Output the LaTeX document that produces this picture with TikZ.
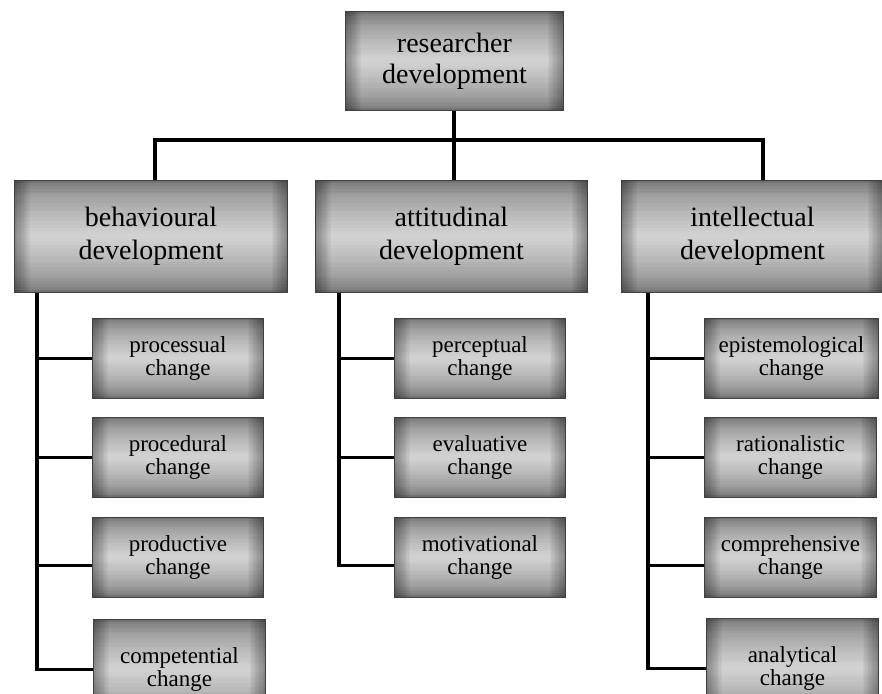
\documentclass[tikz,border=0pt]{standalone}
\usepackage{fontspec}
\setmainfont{Liberation Serif}
\usetikzlibrary{calc}
\tikzset{
  gbox/.style={draw=black!75, line width=0.9pt, anchor=north west, align=center,
    inner sep=0pt, fill=black!45,
    path picture={
      \foreach \bandI in {0,...,39}{
        \pgfmathsetmacro\bandA{\bandI/40}
        \pgfmathsetmacro\bandB{min(1,(\bandI+1.4)/40)}
        \pgfmathsetmacro\bandV{1-abs(2*(\bandI+0.5)/40-1)}
        \pgfmathtruncatemacro\bandP{100-100*(0.38+0.44*sqrt(\bandV))}
        \fill[black!\bandP]
          ($(path picture bounding box.north west)!\bandA!(path picture bounding box.south west)$)
          rectangle
          ($(path picture bounding box.north east)!\bandB!(path picture bounding box.south east)$);
      }
      \foreach \sideK in {1,...,12}{
        \fill[black, opacity=0.03] (path picture bounding box.south west)
          rectangle ([xshift=\sideK*1.3pt]path picture bounding box.north west);
        \fill[black, opacity=0.03] (path picture bounding box.south east)
          rectangle ([xshift=-\sideK*1.3pt]path picture bounding box.north east);
      }
    }},
  topbox/.style={gbox, minimum width=218pt, minimum height=99pt, font=\fontsize{28}{31}\selectfont},
  midbox/.style={gbox, minimum height=112pt, font=\fontsize{28}{33}\selectfont},
  subbox/.style={gbox, minimum height=80pt, font=\fontsize{23}{23.5}\selectfont},
  conn/.style={line width=3.2pt, line cap=butt},
}
\begin{document}
\begin{tikzpicture}[x=1pt,y=-1pt]
\useasboundingbox (0,0) rectangle (882,693);
% top
\node[topbox] (top) at (345,11) {researcher\\development};
% level 2
\node[midbox, minimum width=273pt] (beh) at (14,180) {behavioural\\development};
\node[midbox, minimum width=272pt] (att) at (315,180) {attitudinal\\development};
\node[midbox, minimum width=262pt] (int) at (621,180) {intellectual\\development};
% level 3 left
\node[subbox, minimum width=171pt] (b1) at (92,318) {processual\\change};
\node[subbox, minimum width=171pt] (b2) at (92,417) {procedural\\change};
\node[subbox, minimum width=171pt] (b3) at (92,517) {productive\\change};
\node[subbox, minimum width=172pt, minimum height=100pt] (b4) at (93,619) {competential\\change};
% level 3 middle
\node[subbox, minimum width=171pt] (a1) at (394,318) {perceptual\\change};
\node[subbox, minimum width=171pt] (a2) at (394,417) {evaluative\\change};
\node[subbox, minimum width=171pt] (a3) at (394,517) {motivational\\change};
% level 3 right
\node[subbox, minimum width=174pt] (i1) at (704,318) {epistemological\\change};
\node[subbox, minimum width=172pt] (i2) at (704,417) {rationalistic\\change};
\node[subbox, minimum width=172pt] (i3) at (704,517) {comprehensive\\change};
\node[subbox, minimum width=172pt, minimum height=100pt] (i4) at (706,618) {analytical\\change};
% level 1 -> 2 connectors
\coordinate (hub) at (454,140);
\coordinate (hl) at (155,140);
\coordinate (hr) at (763,140);
\draw[conn] (top.south -| hub) -- (att.north -| hub);
\draw[conn] (beh.north -| hl) -- (hl) -- (hr) -- (int.north -| hr);
% level 2 -> 3 connectors
\coordinate (bl) at (37,292);
\coordinate (al) at (339,292);
\coordinate (il) at (648,292);
\draw[conn] (beh.south -| bl) |- (b4.west);
\draw[conn] (bl |- b1.west) -- (b1.west);
\draw[conn] (bl |- b2.west) -- (b2.west);
\draw[conn] ([yshift=-8pt]bl |- b3.west) -- ([yshift=-8pt]b3.west);
\draw[conn] (att.south -| al) |- ([yshift=-8pt]a3.west);
\draw[conn] (al |- a1.west) -- (a1.west);
\draw[conn] (al |- a2.west) -- (a2.west);
\draw[conn] (int.south -| il) |- (i4.west);
\draw[conn] (il |- i1.west) -- (i1.west);
\draw[conn] (il |- i2.west) -- (i2.west);
\draw[conn] ([yshift=-8pt]il |- i3.west) -- ([yshift=-8pt]i3.west);
\end{tikzpicture}
\end{document}
